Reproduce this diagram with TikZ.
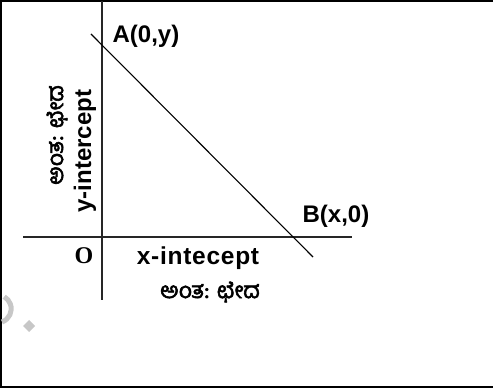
\documentclass[tikz,border=0pt]{standalone}
\usepackage{fontspec}
\setmainfont{Liberation Sans}
\newfontfamily\knfont[Script=Kannada,FakeBold=2.5]{Hind Mysuru}
\newfontfamily\serifO{Liberation Serif}
\begin{document}
\begin{tikzpicture}[x=1pt,y=-1pt,
  axis/.style={line width=1.5pt,draw=black!85},
  lbl/.style={inner sep=0pt,font=\fontsize{24}{26}\selectfont\bfseries},
  wlbl/.style={inner sep=0pt,font=\addfontfeatures{LetterSpace=3}\fontsize{24.5}{26}\selectfont\bfseries},
  knl/.style={inner sep=0pt,font=\knfont\fontsize{22.5}{24}\selectfont}]
\useasboundingbox (0,0) rectangle (493,390);
% frame
\draw[line width=2pt] (493,1) -- (1,1) -- (1,387) -- (493,387);
% watermark
\draw[line width=5pt,draw=black!22] (2,322) arc[start angle=70,end angle=-60,radius=14];
\fill[black!22] (29,320) -- (35,326) -- (29,332) -- (23,326) -- cycle;
% axes
\coordinate (vt) at (102,1);
\coordinate (vb) at (102,300);
\coordinate (hl) at (23,237);
\coordinate (hr) at (352,237);
\coordinate (ls) at (91,34);
\coordinate (le) at (313,257);
\draw[axis] (vt) -- (vb);
\draw[axis] (hl) -- (hr);
\draw[line width=1.1pt] (ls) -- (le);
% labels
\node[lbl] (A) at (146,36) {A(0,y)};
\node[lbl] (B) at (336,216) {B(x,0)};
\node[inner sep=0pt,font=\serifO\fontsize{24}{26}\selectfont\bfseries] (O) at (84,256) {O};
\node[wlbl] (xi) at (198,258) {x-intecept};
\node[knl] (xk) at (210,292) {ಅಂತ: ಛೇದ};
\node[lbl,rotate=90] (yi) at (85,151) {y-intercept};
\node[knl,rotate=90] (yk) at (57,135) {ಅಂತ: ಛೇದ};
\end{tikzpicture}
\end{document}
